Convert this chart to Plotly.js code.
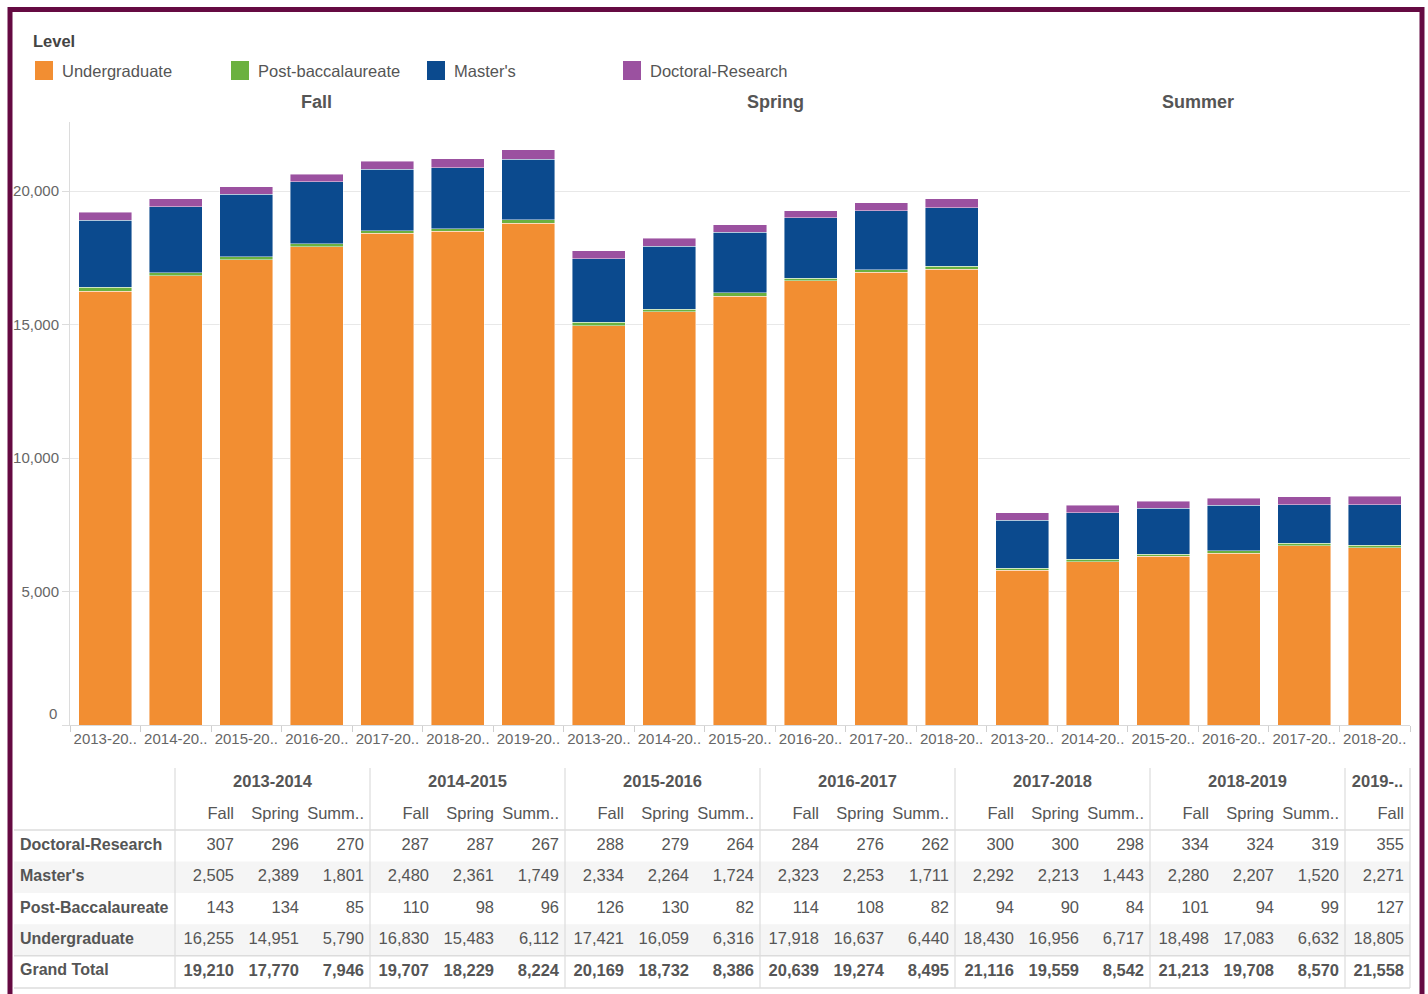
<!DOCTYPE html>
<html>
<head>
<meta charset="utf-8">
<script src="https://cdn.plot.ly/plotly-3.0.1.min.js"></script>
<style>
  html, body { margin: 0; padding: 0; background: #ffffff; }
  #chart { width: 1428px; height: 994px; }
</style>
</head>
<body>
<div id="chart"></div>
<script>
// ---------------- DATA ----------------
const colYear = ['2013-2014','2013-2014','2013-2014','2014-2015','2014-2015','2014-2015',
                 '2015-2016','2015-2016','2015-2016','2016-2017','2016-2017','2016-2017',
                 '2017-2018','2017-2018','2017-2018','2018-2019','2018-2019','2018-2019','2019-2020'];
const colTerm = ['Fall','Spring','Summer','Fall','Spring','Summer','Fall','Spring','Summer',
                 'Fall','Spring','Summer','Fall','Spring','Summer','Fall','Spring','Summer','Fall'];

const doctoral  = [307,296,270, 287,287,267, 288,279,264, 284,276,262, 300,300,298, 334,324,319, 355];
const masters   = [2505,2389,1801, 2480,2361,1749, 2334,2264,1724, 2323,2253,1711, 2292,2213,1443, 2280,2207,1520, 2271];
const postBacc  = [143,134,85, 110,98,96, 126,130,82, 114,108,82, 94,90,84, 101,94,99, 127];
const undergrad = [16255,14951,5790, 16830,15483,6112, 17421,16059,6316, 17918,16637,6440, 18430,16956,6717, 18498,17083,6632, 18805];
const grandTotal = [19210,17770,7946, 19707,18229,8224, 20169,18732,8386, 20639,19274,8495, 21116,19559,8542, 21213,19708,8570, 21558];

const terms = ['Fall','Spring','Summer'];
const termShort = {Fall: 'Fall', Spring: 'Spring', Summer: 'Summ..'};

// Stack order (bottom to top) / legend order
const legendNames = ['Undergraduate','Post-baccalaureate',"Master's",'Doctoral-Research'];
const seriesValues = [undergrad, postBacc, masters, doctoral];
const seriesColors = ['#F28E32','#6BB140','#0B4A8E','#9B51A0'];

// Table rows (top to bottom)
const tableRowNames = ['Doctoral-Research',"Master's",'Post-Baccalaureate','Undergraduate','Grand Total'];
const tableRowValues = [doctoral, masters, postBacc, undergrad, grandTotal];

const yTicks = [0, 5000, 10000, 15000, 20000];

// ---------------- LAYOUT CONSTANTS ----------------
const W = 1428, H = 994;
const px = v => v / W;
const py = v => 1 - v / H;
const fontFam = '"Liberation Sans", Arial, sans-serif';
const txt = '#555555';

// ---------------- BARS ----------------
const barIdx = [];
terms.forEach(t => colTerm.forEach((tt, i) => { if (tt === t) barIdx.push(i); }));
const barKeys = barIdx.map(i => colTerm[i] + ' ' + colYear[i]);
const barTickText = barIdx.map(i => colYear[i].slice(0, 7) + '..');

const traces = [];
legendNames.forEach((name, k) => {
  traces.push({
    type: 'bar',
    name: name,
    x: barKeys,
    y: barIdx.map(i => seriesValues[k][i]),
    marker: { color: seriesColors[k], line: { color: 'rgba(255,255,255,0.55)', width: 0.8 } },
    width: 0.752,
    xaxis: 'x', yaxis: 'y',
    hovertemplate: '%{x}<br>' + name + ': %{y:,}<extra></extra>'
  });
});

// ---------------- TABLE ----------------
const rowHdrRight = 175, colW = 65, cellPad = 6, tableLeft = 14, tableRight = 1410;
const rowY = r => 783 + 31.4 * r;   // r=0 year header, r=1 term header, r=2.. data rows
const colRight = c => rowHdrRight + colW * (c + 1) - cellPad;
const nCols = colYear.length;
const fmt = v => v.toLocaleString('en-US');

// year groups
const groups = [];
colYear.forEach((y, i) => {
  if (!groups.length || groups[groups.length - 1].year !== y) groups.push({year: y, start: i, n: 1});
  else groups[groups.length - 1].n++;
});

const tfont = (sz) => ({ family: fontFam, size: sz, color: txt });
const TS = 16.5;

// year header
traces.push({
  type: 'scatter', mode: 'text', xaxis: 'x2', yaxis: 'y2', hoverinfo: 'skip', showlegend: false, cliponaxis: false,
  x: groups.map(g => rowHdrRight + colW * (g.start + g.n / 2)),
  y: groups.map(() => rowY(0)),
  text: groups.map(g => '<b>' + (g.n > 1 ? g.year : g.year.slice(0, 5) + '..') + '</b>'),
  textposition: 'middle center', textfont: tfont(TS)
});
// term header
traces.push({
  type: 'scatter', mode: 'text', xaxis: 'x2', yaxis: 'y2', hoverinfo: 'skip', showlegend: false, cliponaxis: false,
  x: colTerm.map((t, c) => colRight(c)),
  y: colTerm.map(() => rowY(1)),
  text: colTerm.map(t => termShort[t]),
  textposition: 'middle left', textfont: tfont(TS)
});
// row headers
traces.push({
  type: 'scatter', mode: 'text', xaxis: 'x2', yaxis: 'y2', hoverinfo: 'skip', showlegend: false, cliponaxis: false,
  x: tableRowNames.map(() => 20),
  y: tableRowNames.map((n, r) => rowY(r + 2)),
  text: tableRowNames.map(n => '<b>' + n + '</b>'),
  textposition: 'middle right', textfont: tfont(16)
});
// cells
tableRowNames.forEach((name, r) => {
  const bold = name === 'Grand Total';
  traces.push({
    type: 'scatter', mode: 'text', xaxis: 'x2', yaxis: 'y2', hoverinfo: 'skip', showlegend: false, cliponaxis: false,
    x: tableRowValues[r].map((v, c) => colRight(c)),
    y: tableRowValues[r].map(() => rowY(r + 2)),
    text: tableRowValues[r].map(v => bold ? '<b>' + fmt(v) + '</b>' : fmt(v)),
    textposition: 'middle left', textfont: tfont(TS)
  });
});

const shapes = [];
const half = 31.4 / 2;
// stripes (Master's and Undergraduate rows)
[1, 3].forEach(r => {
  shapes.push({ type: 'rect', xref: 'x2', yref: 'y2', layer: 'below',
    x0: tableLeft, x1: tableRight, y0: rowY(r + 2) - half, y1: rowY(r + 2) + half,
    fillcolor: '#f5f5f5', line: { width: 0 } });
});
// horizontal lines
[rowY(2) - half, rowY(6) - half, rowY(6) + half + 1].forEach(yv => {
  shapes.push({ type: 'line', xref: 'x2', yref: 'y2', x0: tableLeft, x1: tableRight, y0: yv, y1: yv,
    line: { color: '#dcdcdc', width: 1.5 } });
});
// vertical lines
const vlines = [rowHdrRight].concat(groups.slice(1).map(g => rowHdrRight + colW * g.start)).concat([rowHdrRight + colW * nCols]);
vlines.forEach(xv => {
  shapes.push({ type: 'line', xref: 'x2', yref: 'y2', x0: xv, x1: xv, y0: 768, y1: rowY(6) + half + 1,
    line: { color: '#dcdcdc', width: 1.2 } });
});

// ---------------- LEGEND (custom) ----------------
const annotations = [];
annotations.push({ xref: 'paper', yref: 'paper', x: px(31), y: py(41), xanchor: 'left', yanchor: 'middle',
  text: '<b>Level</b>', showarrow: false, font: { family: fontFam, size: 16.5, color: '#444' } });
legendNames.forEach((name, k) => {
  const x0 = 35 + 196 * k;
  shapes.push({ type: 'rect', xref: 'paper', yref: 'paper', x0: px(x0), x1: px(x0 + 18), y0: py(80), y1: py(61),
    fillcolor: seriesColors[k], line: { width: 0 } });
  annotations.push({ xref: 'paper', yref: 'paper', x: px(x0 + 25), y: py(70.5), xanchor: 'left', yanchor: 'middle',
    text: name, showarrow: false, font: { family: fontFam, size: 16.5, color: txt } });
});

// facet headers
terms.forEach(t => {
  const idx = barKeys.map((k, i) => k.startsWith(t + ' ') ? i : -1).filter(i => i >= 0);
  annotations.push({ xref: 'x', yref: 'paper', x: (idx[0] + idx[idx.length - 1]) / 2, y: py(102),
    xanchor: 'center', yanchor: 'middle', text: '<b>' + t + '</b>', showarrow: false,
    font: { family: fontFam, size: 18, color: txt } });
});

// zero tick label (Tableau draws it slightly above the baseline)
annotations.push({ xref: 'paper', yref: 'y', x: px(59), y: 0, yshift: 12, xanchor: 'right', yanchor: 'middle',
  text: '0', showarrow: false, font: { family: fontFam, size: 15, color: '#666' } });

// outer frame
shapes.push({ type: 'rect', xref: 'paper', yref: 'paper', x0: px(10), x1: px(1422), y0: -0.02, y1: py(9.5),
  line: { color: '#650a42', width: 5 }, fillcolor: 'rgba(0,0,0,0)' });

const layout = {
  width: W, height: H,
  margin: { l: 0, r: 0, t: 0, b: 0 },
  paper_bgcolor: '#ffffff', plot_bgcolor: 'rgba(0,0,0,0)',
  barmode: 'stack', showlegend: false,
  font: { family: fontFam, color: txt },
  xaxis: {
    domain: [px(70), px(1410)], anchor: 'y',
    type: 'category', categoryorder: 'array', categoryarray: barKeys,
    tickvals: barKeys, ticktext: barTickText, tickson: 'boundaries',
    tickangle: 0, automargin: false,
    ticks: 'outside', ticklen: 6, tickcolor: '#cfcfcf',
    showline: true, linecolor: '#d9d9d9', linewidth: 1,
    showgrid: false, zeroline: false,
    tickfont: { family: fontFam, size: 15, color: '#666' },
    range: [-0.5, barKeys.length - 0.5], fixedrange: true
  },
  yaxis: {
    domain: [1 - 725 / H, 1 - 122 / H], anchor: 'x',
    range: [0, 22590],
    tickvals: yTicks, ticktext: yTicks.map(v => v === 0 ? '' : fmt(v)),
    ticks: 'outside', ticklen: 7, tickcolor: '#dcdcdc',
    showline: true, linecolor: '#dcdcdc', linewidth: 1,
    showgrid: true, gridcolor: '#e8e8e8', gridwidth: 1, zeroline: false,
    tickfont: { family: fontFam, size: 15, color: '#666' }, fixedrange: true
  },
  xaxis2: { domain: [0, 1], anchor: 'y2', range: [0, W], visible: false, fixedrange: true },
  yaxis2: { domain: [0, 1 - 760 / H], anchor: 'x2', range: [H, 760], visible: false, fixedrange: true },
  shapes: shapes,
  annotations: annotations
};

Plotly.newPlot('chart', traces, layout, { displayModeBar: false, staticPlot: false });
</script>
</body>
</html>
